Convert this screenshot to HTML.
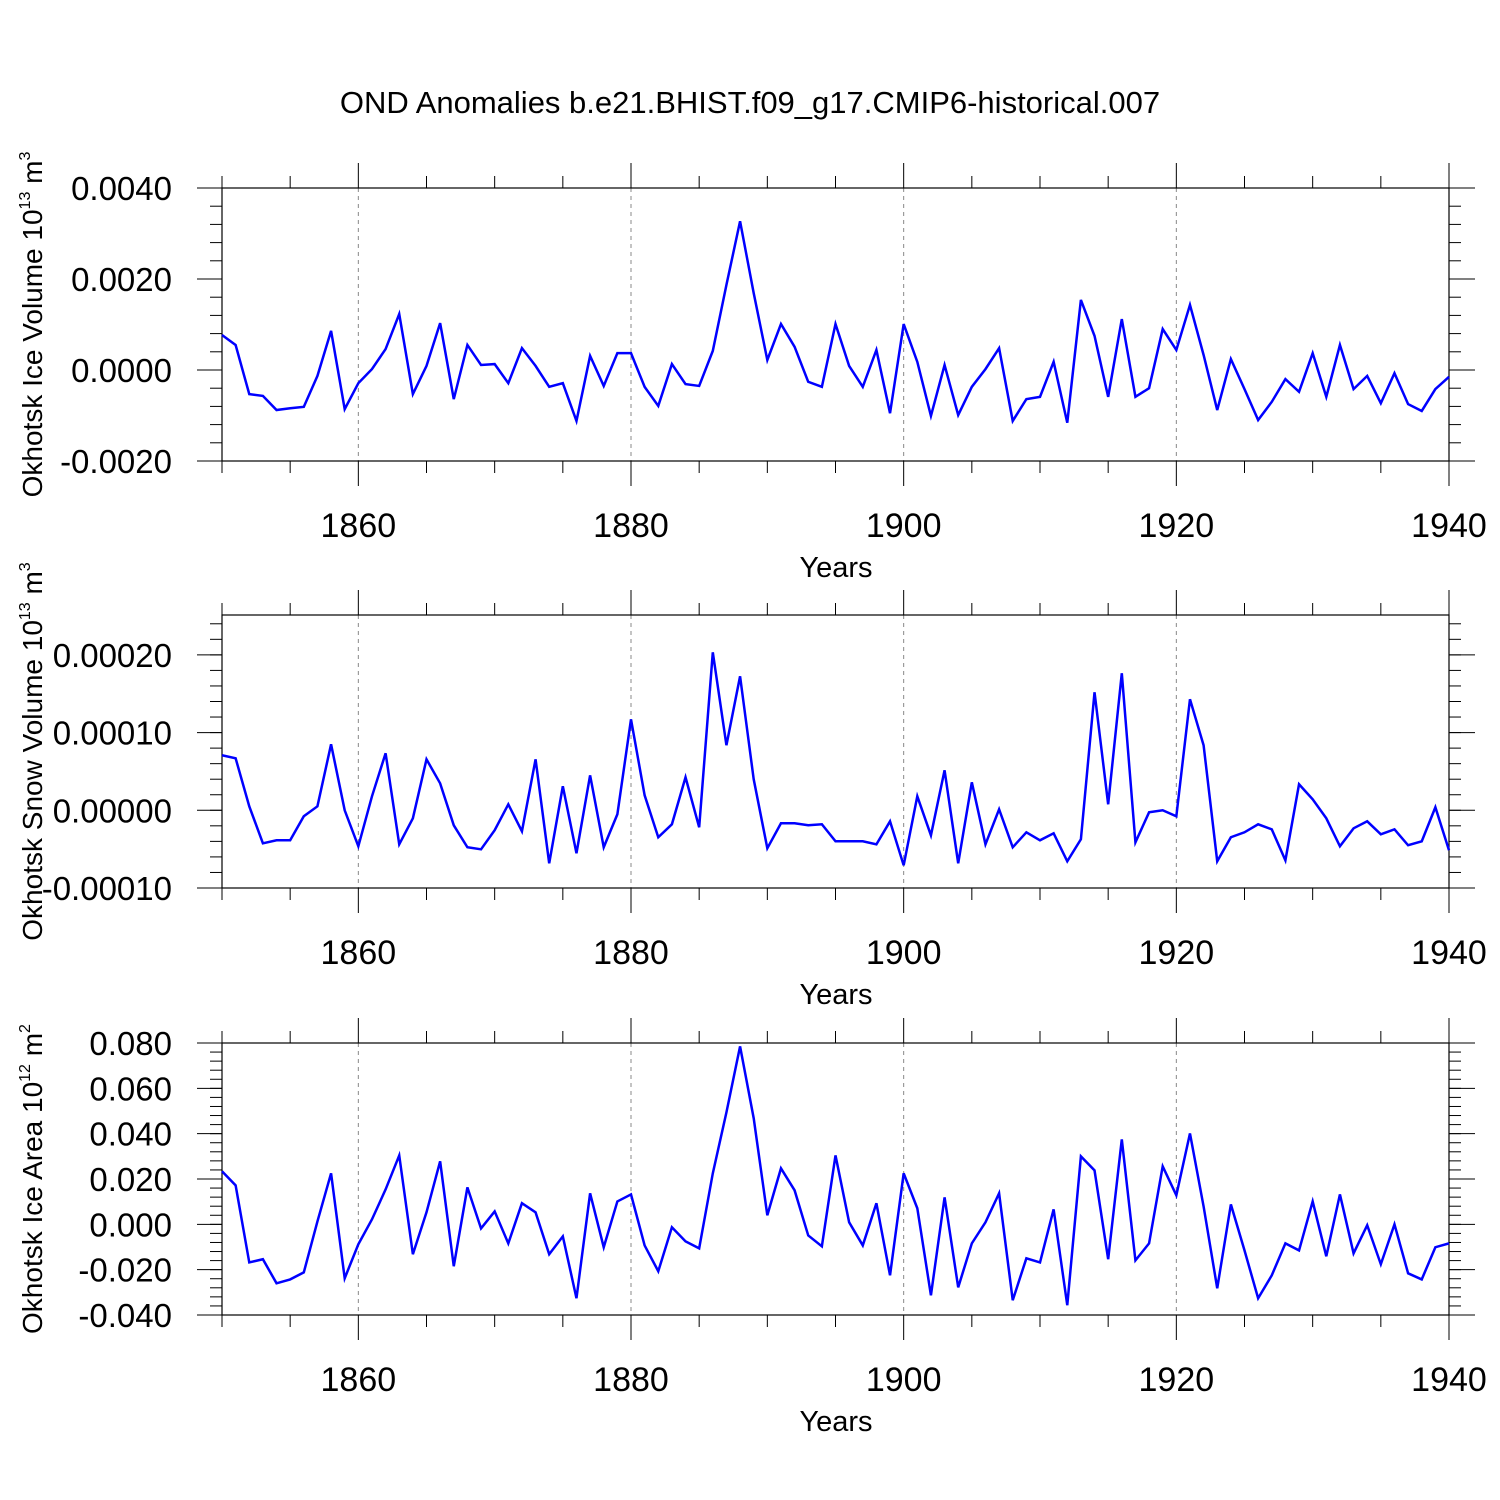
<!DOCTYPE html>
<html><head><meta charset="utf-8"><style>
html,body{margin:0;padding:0;background:#fff;}
svg{display:block;font-family:"Liberation Sans",sans-serif;}
</style></head><body>
<svg id="c" width="1500" height="1500" viewBox="0 0 1500 1500" xmlns="http://www.w3.org/2000/svg">
<rect width="1500" height="1500" fill="#fff"/>
<text x="750" y="113" font-size="31" text-anchor="middle">OND Anomalies b.e21.BHIST.f09_g17.CMIP6-historical.007</text>
</svg>
<script>
const years0 = 1850;
const xTickYears = [1860, 1880, 1900, 1920, 1940];
const iceVolume = [0.00077,0.00055,-0.00053,-0.00057,-0.00088,-0.00084,-0.00081,-0.00013,0.00086,-0.00086,
-0.00029,0.00002,0.00046,0.00123,-0.00053,0.00009,0.00103,-0.00064,0.00055,0.00011,
0.00013,-0.00029,0.00048,0.00009,-0.00037,-0.00029,-0.00112,0.00031,-0.00035,0.00037,
0.00037,-0.00037,-0.00079,0.00013,-0.00031,-0.00035,0.00042,0.00187,0.00327,0.00169,
0.00022,0.00101,0.00051,-0.00026,-0.00037,0.00101,0.00009,-0.00037,0.00044,-0.00095,
0.00101,0.00018,-0.00101,0.00011,-0.00099,-0.00037,0.00002,0.00048,-0.00112,-0.00064,
-0.00059,0.00018,-0.00116,0.00154,0.00075,-0.00059,0.00112,-0.00059,-0.0004,0.0009,
0.00044,0.00143,0.00033,-0.00088,0.00024,-0.00042,-0.0011,-0.0007,-0.0002,-0.00048,
0.00037,-0.00059,0.00055,-0.00042,-0.00013,-0.00073,-0.00007,-0.00075,-0.0009,-0.00042,-0.00015];
const snowVolumeE5 = [7.08,6.69,0.51,-4.25,-3.86,-3.86,-0.77,0.51,8.49,0,
-4.63,1.80,7.34,-4.38,-1.03,6.56,3.47,-1.93,-4.76,-5.02,
-2.57,0.77,-2.70,6.56,-6.82,3.09,-5.53,4.50,-4.76,-0.51,
11.71,1.93,-3.47,-1.80,4.25,-2.19,20.33,8.37,17.25,3.99,
-4.89,-1.67,-1.67,-1.93,-1.80,-3.99,-3.99,-3.99,-4.38,-1.42,
-7.08,1.80,-3.22,5.15,-6.82,3.60,-4.38,0.13,-4.76,-2.83,
-3.86,-2.96,-6.56,-3.73,15.19,0.77,17.63,-4.12,-0.26,0,
-0.77,14.29,8.37,-6.56,-3.47,-2.83,-1.80,-2.45,-6.44,3.35,
1.42,-1.03,-4.63,-2.32,-1.42,-3.09,-2.45,-4.50,-3.99,0.39,-5.15];
const iceAreaE3 = [23.4,17.2,-16.8,-15.4,-26.0,-24.3,-21.2,1.3,22.5,-23.8,
-8.8,2.2,15.4,30.4,-13.2,5.3,27.8,-18.5,16.3,-1.8,
5.7,-8.4,9.3,5.3,-13.2,-5.3,-32.6,13.7,-10.1,10.1,
13.2,-9.3,-20.7,-1.3,-7.5,-10.6,22.5,49.4,78.5,46.8,
4.0,24.7,15.0,-4.9,-9.7,30.4,0.9,-9.3,9.3,-22.5,
22.5,7.1,-31.3,11.9,-27.8,-8.4,0.9,13.7,-33.5,-15.0,
-16.8,6.6,-35.7,30.0,23.8,-15.4,37.5,-15.9,-8.4,25.6,
12.8,40.1,7.9,-28.2,8.8,-11.5,-32.6,-22.5,-8.4,-11.5,
10.1,-14.1,13.2,-12.8,-0.4,-17.6,0,-21.6,-24.3,-10.1,-8.4];
const iceVolTicks = [0.004,0.002,0,-0.002];
const iceVolLabels = ["0.0040","0.0020","0.0000","-0.0020"];
const snowTicks = [20,10,0,-10];
const snowLabels = ["0.00020","0.00010","0.00000","-0.00010"];
const areaTicks = [80,60,40,20,0,-20,-40];
const areaLabels = ["0.080","0.060","0.040","0.020","0.000","-0.020","-0.040"];

const NS="http://www.w3.org/2000/svg";
const svg=document.getElementById('c');
function mk(tag,attrs,parent){const e=document.createElementNS(NS,tag);for(const k in attrs)e.setAttribute(k,attrs[k]);(parent||svg).appendChild(e);return e;}
const L=222,R=1449;
function xs(yr){return L+(yr-1850)*(R-L)/90;}

function panel(name,top,bot,ymin,ymax,ticks,labels,minorStep,data,titleParts){
  const g=mk('g',{});
  
  
  const ys=v=>bot-(v-ymin)*(bot-top)/(ymax-ymin);
  for(const yr of [1860,1880,1900,1920]){
    const l=mk('line',{x1:xs(yr),x2:xs(yr),y1:top,y2:bot,stroke:'#888','stroke-width':1,'stroke-dasharray':'4,4'},g);
    
    
  }
  const fr=mk('rect',{x:L,y:top,width:R-L,height:bot-top,fill:'none',stroke:'#000','stroke-width':1.2},g);
  
  
  for(let yr=1850;yr<=1940;yr+=5){
    const maj=(yr%20===0&&yr>1850);
    const len=maj?25:12;
    const x=xs(yr);
    mk('line',{x1:x,x2:x,y1:top,y2:top-len,stroke:'#000','stroke-width':1},g);
    mk('line',{x1:x,x2:x,y1:bot,y2:bot+len,stroke:'#000','stroke-width':1},g);
  }
  for(const yr of xTickYears){
    const t=mk('text',{x:xs(yr),y:bot+76,'font-size':34,'text-anchor':'middle'},g);
    t.textContent=yr;
    
    
  }
  const xt=mk('text',{x:836,y:bot+116,'font-size':29,'text-anchor':'middle'},g);
  xt.textContent='Years';
  
  
  for(let v=ymin;v<=ymax+1e-9;v+=minorStep){
    const yy=ys(v);
    mk('line',{x1:L,x2:L-12,y1:yy,y2:yy,stroke:'#000','stroke-width':1},g);
    mk('line',{x1:R,x2:R+12,y1:yy,y2:yy,stroke:'#000','stroke-width':1},g);
  }
  ticks.forEach((v,i)=>{
    const yy=ys(v);
    mk('line',{x1:L,x2:L-25,y1:yy,y2:yy,stroke:'#000','stroke-width':1},g);
    mk('line',{x1:R,x2:R+26,y1:yy,y2:yy,stroke:'#000','stroke-width':1},g);
    const t=mk('text',{x:172,y:yy+12,'font-size':33,'text-anchor':'end'},g);
    t.textContent=labels[i];
    
    
  });
  const cy=(top+bot)/2;
  const yt=mk('text',{x:0,y:0,'font-size':28,'text-anchor':'middle',transform:`translate(42,${cy}) rotate(-90)`},g);
  
  
  titleParts.forEach(p=>{const s=mk('tspan',{},yt);s.textContent=p[0];if(p[2])s.setAttribute('font-size',16);if(p[1])s.setAttribute('dy',p[1]);});
  let d='';
  data.forEach((v,i)=>{d+=(i?'L':'M')+xs(years0+i).toFixed(2)+','+ys(v).toFixed(2);});
  const pl=mk('path',{d:d,fill:'none',stroke:'#0000ff','stroke-width':2.5,'stroke-linejoin':'miter'},g);
  
  
}
panel('ice-volume',188,461,-0.002,0.004,iceVolTicks,iceVolLabels,0.0004,iceVolume,
  [['Okhotsk Ice Volume 10'],['13',-12,1],[' m',12],['3',-12,1]]);
panel('snow-volume',615,888,-10,25.13,snowTicks,snowLabels,2,snowVolumeE5,
  [['Okhotsk Snow Volume 10'],['13',-12,1],[' m',12],['3',-12,1]]);
panel('ice-area',1043,1315,-40,80,areaTicks,areaLabels,4,iceAreaE3,
  [['Okhotsk Ice Area 10'],['12',-12,1],[' m',12],['2',-12,1]]);
</script>
</body></html>
